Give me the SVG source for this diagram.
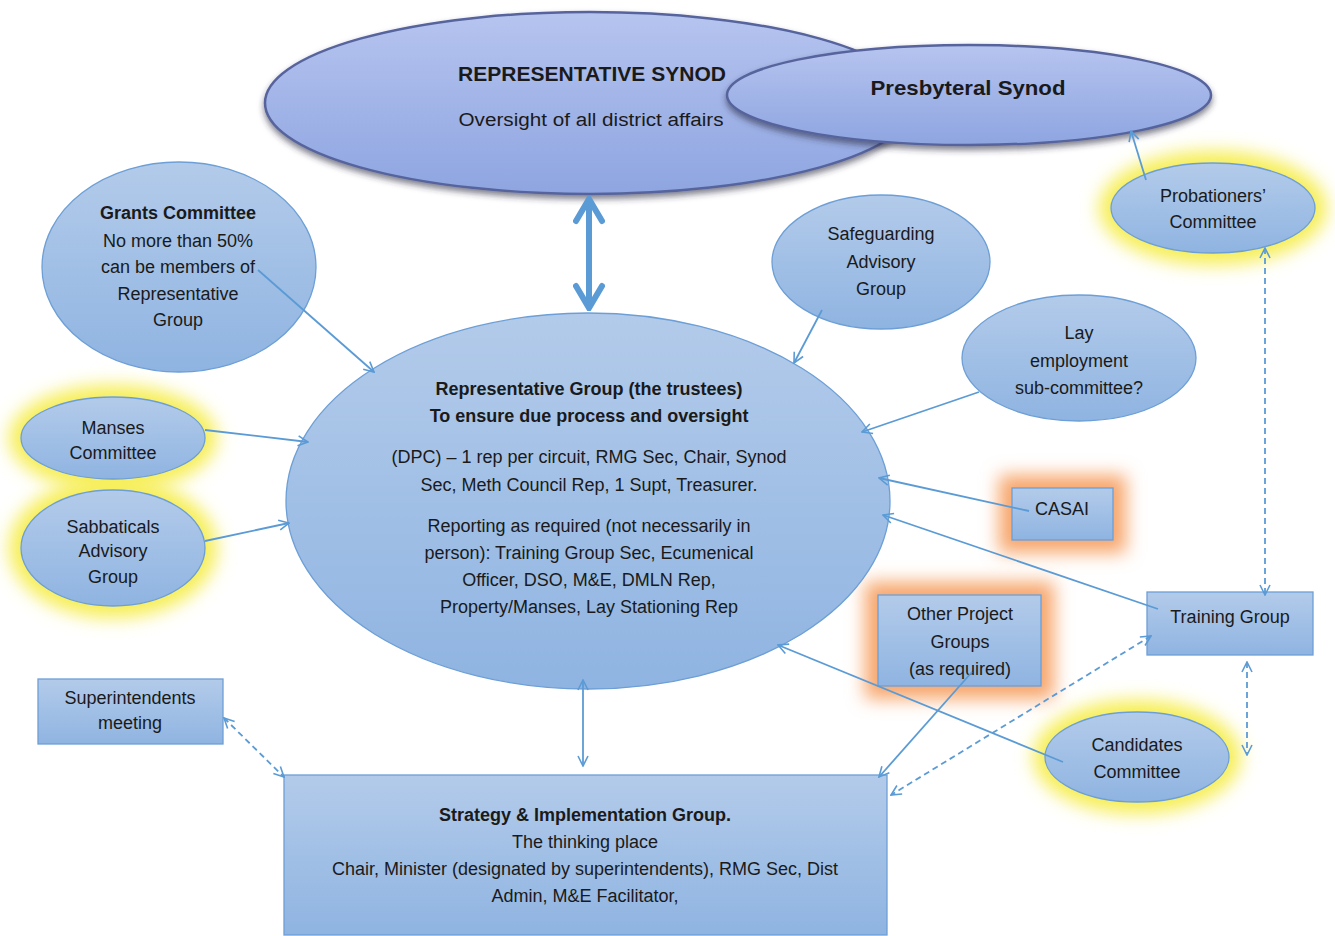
<svg xmlns="http://www.w3.org/2000/svg" width="1335" height="936" viewBox="0 0 1335 936">
<defs>
<style>
.t{font-family:"Liberation Sans",Arial,sans-serif;font-size:18px;fill:#1a1a1a;text-anchor:middle}
.b{font-weight:bold}
.node{fill:url(#gN);stroke:#6d9fd6;stroke-width:1.3}
.syn{fill:url(#gS);stroke:#56649c;stroke-width:2.5;filter:url(#shadow)}
.c{stroke:#5b9bd5;stroke-width:1.8;fill:none}
.d{stroke-dasharray:6 4}
.gy{fill:#f6ee55;filter:url(#blur)}
.go{fill:#f7a66c;filter:url(#blur)}
</style>
<linearGradient id="gN" x1="0" y1="0" x2="0" y2="1">
<stop offset="0" stop-color="#b3cbea"/>
<stop offset="1" stop-color="#8fb4e1"/>
</linearGradient>
<linearGradient id="gS" x1="0" y1="0" x2="0" y2="1">
<stop offset="0" stop-color="#b6c4ef"/>
<stop offset="1" stop-color="#8ea5e1"/>
</linearGradient>
<filter id="blur" x="-30%" y="-30%" width="160%" height="160%">
<feGaussianBlur stdDeviation="9"/>
</filter>
<filter id="shadow" x="-10%" y="-20%" width="120%" height="150%">
<feDropShadow dx="0" dy="4" stdDeviation="3" flood-color="#2a2f45" flood-opacity="0.6"/>
</filter>
<marker id="a" viewBox="0 0 12 12" refX="11" refY="6" markerWidth="12" markerHeight="12" markerUnits="userSpaceOnUse" orient="auto-start-reverse">
<path d="M1,1 L11,6 L1,11" fill="none" stroke="#5b9bd5" stroke-width="1.6"/>
</marker>
<marker id="A" viewBox="0 0 30 32" refX="27" refY="16" markerWidth="30" markerHeight="32" markerUnits="userSpaceOnUse" orient="auto-start-reverse">
<path d="M5,3 L27,16 L5,29" fill="none" stroke="#5b9bd5" stroke-width="6" stroke-linecap="round" stroke-linejoin="miter"/>
</marker>
</defs>
<rect width="1335" height="936" fill="#ffffff"/>

<g id="glows">
<ellipse class="gy" cx="113" cy="438" rx="104" ry="53"/>
<ellipse class="gy" cx="113" cy="548" rx="104" ry="70"/>
<ellipse class="gy" cx="1213" cy="208" rx="114" ry="57"/>
<ellipse class="gy" cx="1137" cy="757" rx="104" ry="57"/>
<rect class="go" x="999" y="475" width="127" height="78"/>
<rect class="go" x="865" y="582" width="189" height="117"/>
</g>

<g id="rep-synod">
<ellipse class="syn" cx="590" cy="103" rx="325" ry="91"/>
<text class="t b" x="592" y="81" style="font-size:21px" textLength="268" lengthAdjust="spacingAndGlyphs">REPRESENTATIVE SYNOD</text>
<text class="t" x="591" y="126" textLength="265" lengthAdjust="spacingAndGlyphs">Oversight of all district affairs</text>
</g>
<g id="pres-synod">
<ellipse class="syn" cx="969" cy="95" rx="242" ry="50"/>
<text class="t b" x="968" y="95" style="font-size:21px" textLength="195" lengthAdjust="spacingAndGlyphs">Presbyteral Synod</text>
</g>

<g id="grants">
<ellipse class="node" cx="179" cy="267" rx="137" ry="105"/>
<text class="t b" x="178" y="219">Grants Committee</text>
<text class="t" x="178" y="247">No more than 50%</text>
<text class="t" x="178" y="273">can be members of</text>
<text class="t" x="178" y="300">Representative</text>
<text class="t" x="178" y="326">Group</text>
</g>

<g id="manses">
<ellipse class="node" cx="113" cy="438" rx="92" ry="41"/>
<text class="t" x="113" y="434">Manses</text>
<text class="t" x="113" y="459">Committee</text>
</g>

<g id="sabbaticals">
<ellipse class="node" cx="113" cy="548" rx="92" ry="58"/>
<text class="t" x="113" y="533">Sabbaticals</text>
<text class="t" x="113" y="557">Advisory</text>
<text class="t" x="113" y="583">Group</text>
</g>

<g id="rep-group">
<ellipse class="node" cx="588" cy="501" rx="302" ry="188"/>
<text class="t b" x="589" y="395">Representative Group (the trustees)</text>
<text class="t b" x="589" y="422">To ensure due process and oversight</text>
<text class="t" x="589" y="463">(DPC) – 1 rep per circuit, RMG Sec, Chair, Synod</text>
<text class="t" x="589" y="491">Sec, Meth Council Rep, 1 Supt, Treasurer.</text>
<text class="t" x="589" y="532">Reporting as required (not necessarily in</text>
<text class="t" x="589" y="559">person): Training Group Sec, Ecumenical</text>
<text class="t" x="589" y="586">Officer, DSO, M&amp;E, DMLN Rep,</text>
<text class="t" x="589" y="613">Property/Manses, Lay Stationing Rep</text>
</g>

<g id="safeguarding">
<ellipse class="node" cx="881" cy="262" rx="109" ry="67"/>
<text class="t" x="881" y="240">Safeguarding</text>
<text class="t" x="881" y="268">Advisory</text>
<text class="t" x="881" y="295">Group</text>
</g>

<g id="lay-employment">
<ellipse class="node" cx="1079" cy="358" rx="117" ry="63"/>
<text class="t" x="1079" y="339">Lay</text>
<text class="t" x="1079" y="367">employment</text>
<text class="t" x="1079" y="394">sub-committee?</text>
</g>

<g id="probationers">
<ellipse class="node" cx="1213" cy="208" rx="102" ry="45"/>
<text class="t" x="1213" y="202">Probationers’</text>
<text class="t" x="1213" y="228">Committee</text>
</g>

<g id="casai">
<rect class="node" x="1012" y="488" width="101" height="52"/>
<text class="t" x="1062" y="515">CASAI</text>
</g>

<g id="training">
<rect class="node" x="1147" y="592" width="166" height="63"/>
<text class="t" x="1230" y="623">Training Group</text>
</g>

<g id="other-projects">
<rect class="node" x="878" y="595" width="163" height="91"/>
<text class="t" x="960" y="620">Other Project</text>
<text class="t" x="960" y="648">Groups</text>
<text class="t" x="960" y="675">(as required)</text>
</g>

<g id="candidates">
<ellipse class="node" cx="1137" cy="757" rx="92" ry="45"/>
<text class="t" x="1137" y="751">Candidates</text>
<text class="t" x="1137" y="778">Committee</text>
</g>

<g id="superintendents">
<rect class="node" x="38" y="679" width="185" height="65"/>
<text class="t" x="130" y="704">Superintendents</text>
<text class="t" x="130" y="729">meeting</text>
</g>

<g id="strategy">
<rect class="node" x="284" y="775" width="603" height="160"/>
<text class="t b" x="585" y="821">Strategy &amp; Implementation Group.</text>
<text class="t" x="585" y="848">The thinking place</text>
<text class="t" x="585" y="875">Chair, Minister (designated by superintendents), RMG Sec, Dist</text>
<text class="t" x="585" y="902">Admin, M&amp;E Facilitator,</text>
</g>

<g id="connectors">
<line x1="589" y1="199" x2="589" y2="308" stroke="#5b9bd5" stroke-width="6" marker-start="url(#A)" marker-end="url(#A)"/>
<line class="c" x1="258" y1="270" x2="374" y2="372" marker-end="url(#a)"/>
<line class="c" x1="205" y1="430" x2="308" y2="442" marker-end="url(#a)"/>
<line class="c" x1="205" y1="541" x2="289" y2="523" marker-end="url(#a)"/>
<line class="c" x1="822" y1="310" x2="794" y2="363" marker-end="url(#a)"/>
<line class="c" x1="979" y1="392" x2="862" y2="432" marker-end="url(#a)"/>
<line class="c" x1="1029" y1="511" x2="879" y2="478" marker-end="url(#a)"/>
<line class="c" x1="1158" y1="609" x2="883" y2="515" marker-end="url(#a)"/>
<line class="c" x1="1063" y1="762" x2="778" y2="645" marker-end="url(#a)"/>
<line class="c" x1="972" y1="672" x2="879" y2="777" marker-end="url(#a)"/>
<line class="c" x1="1146" y1="180" x2="1131" y2="131" marker-end="url(#a)"/>
<line class="c" x1="583" y1="680" x2="583" y2="766" stroke-width="1.4" marker-start="url(#a)" marker-end="url(#a)"/>
<line class="c d" x1="224" y1="718" x2="284" y2="777" marker-start="url(#a)" marker-end="url(#a)"/>
<line class="c d" x1="1151" y1="636" x2="891" y2="795" marker-start="url(#a)" marker-end="url(#a)"/>
<line class="c d" x1="1265" y1="248" x2="1265" y2="595" marker-start="url(#a)" marker-end="url(#a)"/>
<line class="c d" x1="1247" y1="662" x2="1247" y2="755" marker-start="url(#a)" marker-end="url(#a)"/>
</g>
</svg>
